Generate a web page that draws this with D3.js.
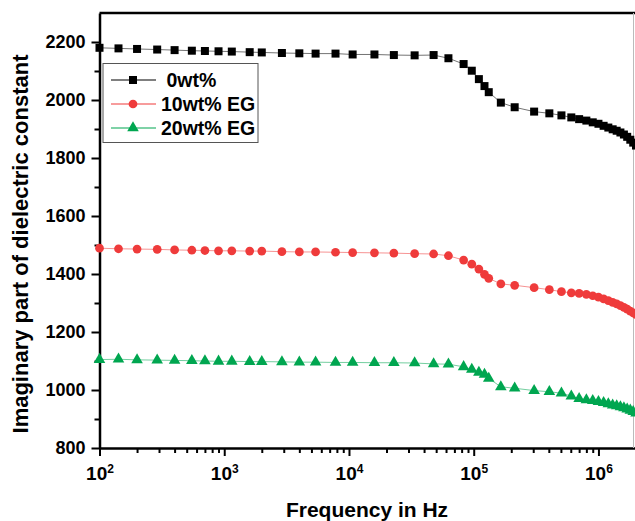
<!DOCTYPE html>
<html>
<head>
<meta charset="utf-8">
<script src="https://cdn.jsdelivr.net/npm/d3@7"></script>
<style>
  body { margin: 0; background: #fff; }
  svg { font-family: "Liberation Sans", Arial, sans-serif; font-weight: bold; }
</style>
</head>
<body>
<div id="chart"></div>
<script>
'use strict';

// frequency in Hz (shared by all three samples)
const freq = [100, 142, 200, 290, 400, 550, 700, 900, 1150, 1600, 2000, 2900, 4000, 5400,
    7800, 10700, 16000, 22900, 33600, 47700, 62700, 83000, 96500, 110000, 122000, 132000,
    165000, 213000, 305000, 404000, 505000, 606000, 700000, 800000, 900000, 1000000,
    1100000, 1200000, 1300000, 1400000, 1500000, 1600000, 1700000, 1800000, 1900000, 2000000]

const eps0 = [2180, 2178, 2176, 2174, 2172, 2170, 2169, 2168, 2167, 2165, 2164, 2162, 2161, 2160,
    2160, 2157, 2157, 2155, 2154, 2155, 2144, 2124, 2101, 2072, 2048, 2027,
    1991, 1975, 1960, 1954, 1947, 1940, 1934, 1929, 1923, 1918,
    1911, 1905, 1899, 1894, 1888, 1881, 1873, 1863, 1853, 1843]

const eps10 = [1489, 1487, 1486, 1485, 1483, 1482, 1481, 1480, 1480, 1479, 1479, 1477, 1476, 1476,
    1475, 1474, 1473, 1472, 1470, 1469, 1463, 1448, 1434, 1417, 1399, 1385,
    1366, 1361, 1353, 1346, 1339, 1335, 1333, 1330, 1325, 1320,
    1314, 1308, 1302, 1297, 1291, 1285, 1279, 1272, 1266, 1260]

const eps20 = [1105, 1106, 1104, 1103, 1102, 1101, 1100, 1099, 1099, 1098, 1098, 1097, 1096, 1096,
    1095, 1095, 1094, 1094, 1093, 1090, 1089, 1080, 1071, 1061, 1054, 1040,
    1011, 1006, 998, 994, 989, 979, 970, 966, 963, 960,
    956, 952, 948, 945, 942, 938, 934, 930, 925, 920]

const seriesNames = [' 0wt%', '10wt% EG', '20wt% EG']
const seriesValues = [eps0, eps10, eps20]
const seriesColors = ['#000000', '#ef3b3b', '#00a650']
const seriesSymbols = [d3.symbolSquare, d3.symbolCircle, d3.symbolTriangle]
const symbolSizes = [64, 60, 58]

const xTicks = [1e2, 1e3, 1e4, 1e5, 1e6]
const yTicks = [800, 1000, 1200, 1400, 1600, 1800, 2000, 2200]

const width = 635, height = 521
const plotLeft = 99.5, plotRight = 636, plotTop = 13, plotBottom = 448

const svg = d3.select('#chart')
    .append('svg')
    .attr('width', width)
    .attr('height', height)

const xScale = d3.scaleLog()
    .domain([100, 2e6])
    .range([plotLeft, plotRight])

const yScale = d3.scaleLinear()
    .domain([800, 2300])
    .range([plotBottom, plotTop])

// minor ticks
const xMinor = []
for (let d = 100; d < 2e6; d *= 10) {
    for (let k = 2; k <= 9; k++) if (d * k <= 2e6) xMinor.push(d * k)
}
const yMinor = d3.range(900, 2300, 200)

svg.append('g')
    .attr('transform', `translate(0, ${plotBottom})`)
    .call(d3.axisBottom(xScale).tickValues(xMinor).tickSize(5).tickFormat(''))
    .call(g => g.select('.domain').remove())
    .selectAll('line').attr('stroke-width', 2)

svg.append('g')
    .attr('transform', `translate(${plotLeft}, 0)`)
    .call(d3.axisLeft(yScale).tickValues(yMinor).tickSize(5).tickFormat(''))
    .call(g => g.select('.domain').remove())
    .selectAll('line').attr('stroke-width', 2)

// major x axis
let xAxis = svg.append('g')
    .attr('transform', `translate(0, ${plotBottom})`)
    .call(d3.axisBottom(xScale).tickValues(xTicks).tickSize(8).tickSizeOuter(0).tickPadding(11).tickFormat(''))
xAxis.select('.domain').attr('stroke-width', 2.5)
xAxis.selectAll('line').attr('stroke-width', 2)
xAxis.selectAll('.tick text')
    .attr('font-size', 19)
    .attr('fill', '#000')
    .attr('dy', '0.71em')
    .each(function (d) {
        let t = d3.select(this)
        t.append('tspan').text('10')
        t.append('tspan').attr('font-size', 12).attr('dy', '-0.6em').text(Math.round(Math.log10(d)))
    })

// major y axis
let yAxis = svg.append('g')
    .attr('transform', `translate(${plotLeft}, 0)`)
    .call(d3.axisLeft(yScale).tickValues(yTicks).tickSize(8).tickSizeOuter(0).tickPadding(6)
        .tickFormat(d3.format('d')))
yAxis.select('.domain').attr('stroke-width', 2.5)
yAxis.selectAll('line').attr('stroke-width', 2)
yAxis.selectAll('text').attr('font-size', 18).attr('fill', '#000')

// frame top & right
svg.append('line')
    .attr('x1', plotLeft).attr('x2', width)
    .attr('y1', plotTop).attr('y2', plotTop)
    .attr('stroke', '#000').attr('stroke-width', 2.5)
svg.append('line')
    .attr('x1', 633.5).attr('x2', 633.5)
    .attr('y1', plotTop).attr('y2', plotBottom)
    .attr('stroke', '#bbb').attr('stroke-width', 1)

// series
const plot = svg.append('g')

seriesValues.forEach((vals, s) => {
    let pts = freq.map((f, i) => [f, vals[i]])
    plot.append('path')
        .datum(pts)
        .attr('fill', 'none')
        .attr('stroke', seriesColors[s])
        .attr('stroke-opacity', 0.55)
        .attr('stroke-width', 1)
        .attr('d', d3.line()
            .x(d => xScale(d[0]))
            .y(d => yScale(d[1])))

    plot.selectAll('.m' + s)
        .data(pts)
        .join('path')
        .attr('class', 'm' + s)
        .attr('transform', d => `translate(${xScale(d[0])}, ${yScale(d[1])})`)
        .attr('d', d3.symbol().type(seriesSymbols[s]).size(symbolSizes[s]))
        .attr('fill', seriesColors[s])
})

// legend
let legend = svg.append('g')
legend.append('rect')
    .attr('x', 103).attr('y', 63.5)
    .attr('width', 155).attr('height', 79)
    .attr('fill', '#fff')
    .attr('stroke', '#555').attr('stroke-width', 1)

seriesNames.forEach((name, s) => {
    let y = 80 + s * 24
    legend.append('line')
        .attr('x1', 111).attr('x2', 156)
        .attr('y1', y).attr('y2', y)
        .attr('stroke', seriesColors[s]).attr('stroke-width', 1.2)
    legend.append('path')
        .attr('transform', `translate(133, ${y})`)
        .attr('d', d3.symbol().type(seriesSymbols[s]).size(symbolSizes[s]))
        .attr('fill', seriesColors[s])
    legend.append('text')
        .attr('x', 161).attr('y', y + 7)
        .attr('font-size', 19.5)
        .style('white-space', 'pre')
        .text(name)
})

// axis titles
svg.append('text')
    .attr('x', 367).attr('y', 517)
    .attr('text-anchor', 'middle')
    .attr('font-size', 21)
    .text('Frequency in Hz')

svg.append('text')
    .attr('transform', 'translate(28, 244) rotate(-90)')
    .attr('text-anchor', 'middle')
    .attr('font-size', 22)
    .text('Imaginary part of dielectric constant')
</script>
</body>
</html>
